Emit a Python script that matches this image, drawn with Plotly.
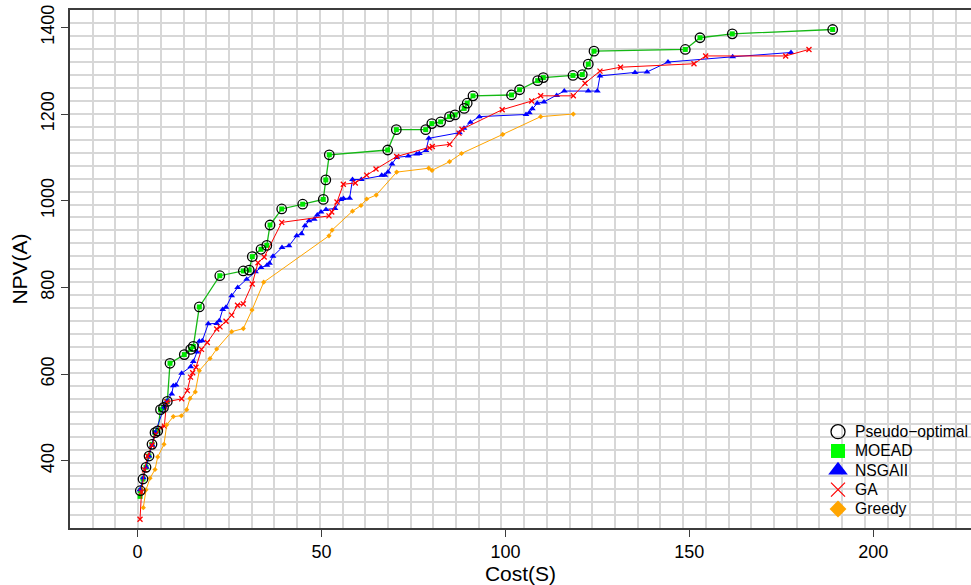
import plotly.graph_objects as go

# ---- data: cost (S) vs NPV (A) for each method ----
pseudo_cost = [0.76, 1.49, 2.31, 3.13, 3.94, 4.76, 5.49, 6.25, 7.07, 8.10, 8.83,
               12.72, 14.46, 15.17, 16.80, 22.37, 28.76, 30.36, 31.20, 33.57, 35.15,
               36.02, 39.20, 44.90, 50.50, 51.18, 52.13, 68.01, 70.35, 78.34, 80.00,
               82.41, 84.81, 86.30, 88.80, 89.62, 91.19, 101.66, 103.86, 108.78,
               110.30, 118.37, 120.90, 122.53, 124.08, 148.90, 152.89, 161.67, 188.96]
pseudo_npv = [331, 358, 385, 411, 438, 465, 469, 518, 523, 537, 625,
              645, 657, 664, 755, 827, 838, 840, 871, 888, 897,
              944, 981, 992, 1003, 1048, 1106, 1117, 1164, 1164, 1178,
              1182, 1194, 1198, 1213, 1225, 1242, 1244, 1256, 1277,
              1284, 1289, 1291, 1315, 1345, 1349, 1376, 1385, 1395]

moead_cost = [0.70] + pseudo_cost
moead_npv = [318] + pseudo_npv

nsga_cost = [0.68, 1.58, 2.39, 3.13, 4.02, 4.84, 7.28, 8.02, 9.30, 9.73, 10.46,
             12.01, 14.46, 15.17, 16.17, 16.80, 17.61, 19.24, 21.53, 22.23, 23.16,
             24.06, 25.60, 27.24, 29.68, 32.07, 33.57, 35.20, 35.88, 36.83, 39.28,
             41.18, 43.27, 44.58, 45.53, 46.62, 48.03, 48.87, 49.88, 51.24, 53.68,
             55.31, 55.99, 57.65, 58.44, 60.83, 66.38, 67.22, 68.09, 69.18, 70.45,
             73.61, 75.89, 76.60, 78.42, 79.18, 87.52, 88.75, 90.51, 92.91, 105.60,
             106.50, 107.31, 108.67, 110.49, 113.94, 116.01, 122.53, 124.98, 125.71,
             135.23, 138.49, 144.20, 161.78, 177.63]
nsga_npv = [333, 361, 385, 411, 436, 466, 524, 538, 554, 573, 575,
            602, 617, 629, 651, 676, 677, 716, 717, 723, 749,
            754, 781, 800, 819, 836, 846, 851, 856, 872, 892,
            896, 919, 924, 942, 954, 957, 967, 974, 980, 982,
            1003, 1005, 1006, 1049, 1049, 1059, 1059, 1066, 1085, 1100,
            1103, 1108, 1109, 1116, 1144, 1157, 1167, 1181, 1194, 1199,
            1203, 1212, 1225, 1228, 1243, 1253, 1253, 1253, 1288,
            1296, 1297, 1320, 1332, 1342]

ga_cost = [0.68, 1.09, 1.90, 2.72, 3.94, 4.95, 6.25, 7.28, 7.94, 12.01, 13.54,
           14.41, 15.00, 15.90, 17.40, 18.97, 21.53, 22.42, 24.06, 25.60, 27.18,
           28.76, 31.18, 32.75, 34.44, 39.20, 52.05, 52.79, 54.23, 55.94, 59.20,
           62.30, 64.83, 70.45, 79.37, 80.13, 84.86, 87.39, 88.20, 99.13, 107.15,
           109.59, 118.46, 121.64, 125.71, 131.29, 151.26, 154.44, 176.19, 182.52]
ga_npv = [265, 328, 379, 411, 436, 461, 476, 480, 536, 543, 562,
          593, 603, 616, 657, 673, 704, 709, 722, 736, 759,
          762, 808, 857, 870, 950, 965, 974, 997, 1038, 1041,
          1059, 1073, 1102, 1122, 1125, 1130, 1156, 1165, 1210, 1230,
          1242, 1242, 1271, 1299, 1308, 1316, 1334, 1334, 1349]

greedy_cost = [1.58, 2.31, 3.40, 4.76, 5.49, 7.20, 7.94, 9.73, 11.91, 13.37, 14.27,
               15.70, 16.80, 19.71, 21.53, 25.60, 28.76, 31.12, 34.30, 52.05, 52.87,
               58.44, 60.75, 62.30, 64.88, 70.45, 79.15, 80.05, 84.81, 88.07, 99.27,
               109.59, 118.46]
greedy_npv = [292, 333, 360, 380, 409, 438, 483, 502, 504, 518, 544,
              559, 608, 636, 658, 698, 705, 748, 812, 919, 932,
              976, 989, 1004, 1013, 1066, 1075, 1070, 1090, 1109, 1153,
              1194, 1200]

x_ticks = [0, 50, 100, 150, 200]
y_ticks = [400, 600, 800, 1000, 1200, 1400]

x_range = [-18.35, 226.56]
y_range = [245, 1440]
x_grid_step = 6.173
y_grid_step = 29.85

GREEN = "#00e600"
GREEN_LINE = "#14b814"
BLUE = "#0000ff"
RED = "#ff0000"
ORANGE = "#ffa500"
AXIS = "#3c3c3c"
GRID = "#d7d7d7"
FONT = "Liberation Sans, Arial, Helvetica, sans-serif"

fig = go.Figure()

fig.add_trace(go.Scatter(
    x=moead_cost, y=moead_npv, mode="lines+markers", showlegend=False,
    line=dict(color=GREEN_LINE, width=1.3),
    marker=dict(symbol="square", size=5, color=GREEN)))
fig.add_trace(go.Scatter(
    x=nsga_cost, y=nsga_npv, mode="lines+markers", showlegend=False,
    line=dict(color=BLUE, width=1),
    marker=dict(symbol="triangle-up", size=6, color=BLUE)))
fig.add_trace(go.Scatter(
    x=ga_cost, y=ga_npv, mode="lines+markers", showlegend=False,
    line=dict(color=RED, width=1),
    marker=dict(symbol="x-thin", size=5, color=RED,
                line=dict(color=RED, width=1.3))))
fig.add_trace(go.Scatter(
    x=greedy_cost, y=greedy_npv, mode="lines+markers", showlegend=False,
    line=dict(color=ORANGE, width=1),
    marker=dict(symbol="diamond", size=4, color=ORANGE)))
fig.add_trace(go.Scatter(
    x=pseudo_cost, y=pseudo_npv, mode="markers", showlegend=False,
    marker=dict(symbol="circle-open", size=9.5, color="black",
                line=dict(color="black", width=1.3))))

# ---- key box (drawn on an overlay axis in plot-fraction units) ----
legend_names = ["Pseudo\u2212optimal", "MOEAD", "NSGAII", "GA", "Greedy"]
legend_markers = [
    dict(symbol="circle-open", size=14, color="black", line=dict(color="black", width=1.3)),
    dict(symbol="square", size=14, color="#00ff00"),
    dict(symbol="triangle-up", size=17, color=BLUE),
    dict(symbol="x-thin", size=14, color=RED, line=dict(color=RED, width=1.2)),
    dict(symbol="diamond", size=13, color=ORANGE),
]
key_symbol_x = 0.8524
key_text_x = 0.8690
key_top_y = 0.186
key_row_step = 0.0373

for i, (name, mk) in enumerate(zip(legend_names, legend_markers)):
    row_y = key_top_y - i * key_row_step
    fig.add_trace(go.Scatter(x=[key_symbol_x], y=[row_y], mode="markers",
                             marker=mk, showlegend=False, hoverinfo="skip",
                             xaxis="x2", yaxis="y2", cliponaxis=False))
    fig.add_annotation(x=key_text_x, y=row_y, xref="x2", yref="y2",
                       text=name, showarrow=False, xanchor="left", yanchor="middle",
                       font=dict(family=FONT, size=15.7, color="black"))

axis_common = dict(
    showline=True, linecolor=AXIS, linewidth=1.5,
    ticks="outside", ticklen=7, tickwidth=1.2, tickcolor=AXIS,
    showgrid=False, zeroline=False,
    tickfont=dict(family=FONT, size=18, color="black"),
)

xaxis_cfg = dict(
    range=x_range, tickmode="array", tickvals=x_ticks,
    ticktext=[str(v) for v in x_ticks], mirror=True,
    title=dict(text="Cost(S)", font=dict(family=FONT, size=21, color="black"),
               standoff=3),
    minor=dict(tick0=x_range[0], dtick=x_grid_step, showgrid=True,
               gridcolor=GRID, gridwidth=1.6, ticks=""),
    **axis_common)
yaxis_cfg = dict(
    range=y_range, tickmode="array", tickvals=y_ticks,
    ticktext=[str(v) for v in y_ticks], tickangle=-90,
    title=dict(text="NPV(A)", font=dict(family=FONT, size=21, color="black"),
               standoff=5),
    minor=dict(tick0=y_range[0], dtick=y_grid_step, showgrid=True,
               gridcolor=GRID, gridwidth=1.6, ticks=""),
    **axis_common)

fig.update_layout(
    width=971, height=585,
    margin=dict(l=70, r=0, t=10, b=57, autoexpand=False),
    plot_bgcolor="white", paper_bgcolor="white",
    font=dict(family=FONT, color="black"),
    showlegend=False,
    xaxis=xaxis_cfg,
    yaxis=yaxis_cfg,
    xaxis2=dict(overlaying="x", anchor="y2", range=[0, 1], visible=False,
                fixedrange=True),
    yaxis2=dict(overlaying="y", anchor="x2", range=[0, 1], visible=False,
                fixedrange=True),
)

fig.write_html("out.html")
